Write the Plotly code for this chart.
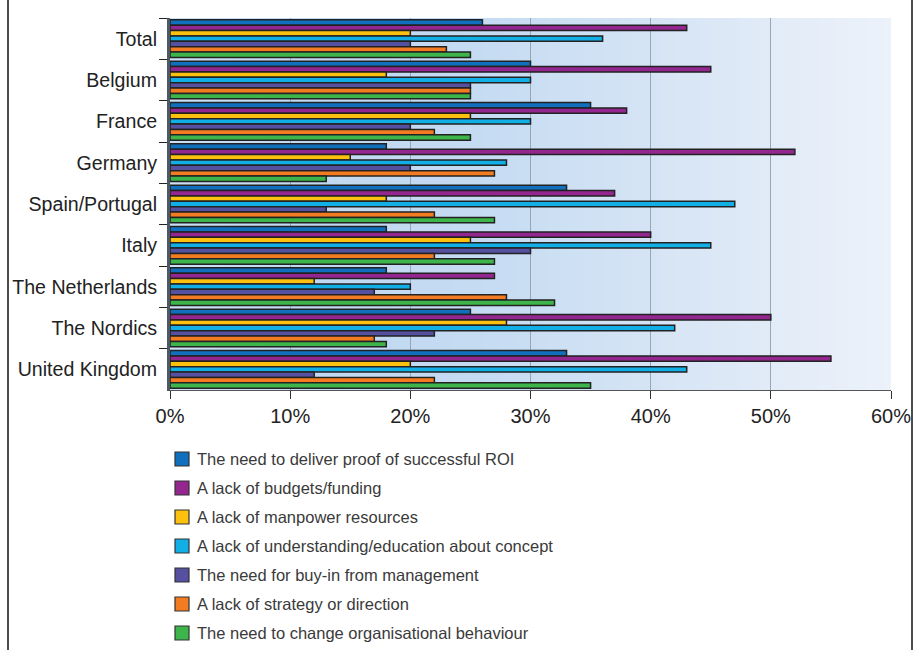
import plotly.graph_objects as go

# Countries (top to bottom) and the barriers surveyed
countries = ["Total", "Belgium", "France", "Germany", "Spain/Portugal", "Italy",
             "The Netherlands", "The Nordics", "United Kingdom"]

series_names = [
    "The need to deliver proof of successful ROI",
    "A lack of budgets/funding",
    "A lack of manpower resources",
    "A lack of understanding/education about concept",
    "The need for buy-in from management",
    "A lack of strategy or direction",
    "The need to change organisational behaviour",
]

roi           = [26, 30, 35, 18, 33, 18, 18, 25, 33]
budgets       = [43, 45, 38, 52, 37, 40, 27, 50, 55]
manpower      = [20, 18, 25, 15, 18, 25, 12, 28, 20]
understanding = [36, 30, 30, 28, 47, 45, 20, 42, 43]
buy_in        = [20, 25, 20, 20, 13, 30, 17, 22, 12]
strategy      = [23, 25, 22, 27, 22, 22, 28, 17, 22]
behaviour     = [25, 25, 25, 13, 27, 27, 32, 18, 35]

series_values = [roi, budgets, manpower, understanding, buy_in, strategy, behaviour]
series_colors = ["#1170bd", "#93278f", "#fcc10f", "#12aee6", "#55509f", "#f37c22", "#3db54a"]

x_ticks = [0, 10, 20, 30, 40, 50, 60]
x_tick_labels = ["0%", "10%", "20%", "30%", "40%", "50%", "60%"]

# Plot-area geometry in pixels, used to place the key below the chart
PLOT_L, PLOT_R, PLOT_T, PLOT_B = 170, 891, 18, 390
PW, PH = PLOT_R - PLOT_L, PLOT_B - PLOT_T


def px_x(px):
    return (px - PLOT_L) / PW


def px_y(py):
    return (PLOT_B - py) / PH


fig = go.Figure()

for name, vals, col in zip(series_names, series_values, series_colors):
    fig.add_trace(go.Bar(
        y=countries, x=vals, name=name, orientation="h",
        marker=dict(color=col, line=dict(color="#222", width=1.5)),
        showlegend=False,
    ))

# Horizontal blue gradient behind the bars
def lerp(c1, c2, t):
    return tuple(round(a + (b - a) * t) for a, b in zip(c1, c2))

stops = [(0, (205, 224, 244)), (12, (192, 216, 241)), (25, (196, 219, 242)),
         (40, (213, 228, 245)), (52, (228, 236, 248)), (60, (236, 242, 250))]
shapes = []
steps = 120
for k in range(steps):
    x0 = 60 * k / steps
    x1 = 60 * (k + 1) / steps
    xm = (x0 + x1) / 2
    for (a, ca), (b, cb) in zip(stops[:-1], stops[1:]):
        if a <= xm <= b:
            c = lerp(ca, cb, (xm - a) / (b - a))
            break
    shapes.append(dict(type="rect", xref="x", yref="paper", x0=x0, x1=x1 + 0.05,
                       y0=0, y1=1, fillcolor=f"rgb{c}", line=dict(width=0),
                       layer="below"))

# Outer frame lines at the left and right edges of the page
for fx in (8, 912):
    shapes.append(dict(type="line", xref="paper", yref="paper",
                       x0=px_x(fx), x1=px_x(fx), y0=px_y(655), y1=px_y(-5),
                       line=dict(color="#111", width=1.5)))

# Key: coloured squares with the series names beside them
annotations = []
for i, (name, col) in enumerate(zip(series_names, series_colors)):
    cy = 459 + 29 * i
    shapes.append(dict(type="rect", xref="paper", yref="paper",
                       x0=px_x(175), x1=px_x(189), y0=px_y(cy + 7), y1=px_y(cy - 7),
                       fillcolor=col, line=dict(color="#333", width=1.2)))
    annotations.append(dict(xref="paper", yref="paper", x=px_x(195), y=px_y(cy),
                            xanchor="left", yanchor="middle", showarrow=False,
                            text=name, font=dict(size=16.5, color="#3a3a3a")))

fig.update_layout(
    width=923, height=650,
    margin=dict(l=PLOT_L, r=923 - PLOT_R, t=PLOT_T, b=650 - PLOT_B, autoexpand=False),
    paper_bgcolor="white",
    plot_bgcolor="rgba(0,0,0,0)",
    barmode="group",
    bargap=0.09,
    bargroupgap=0,
    shapes=shapes,
    annotations=annotations,
    showlegend=False,
    font=dict(family="Liberation Sans, Arial, sans-serif", color="#222"),
    xaxis=dict(
        range=[0, 60], tickvals=x_ticks, ticktext=x_tick_labels,
        showgrid=True, gridcolor="#9aa5b1", gridwidth=1.2,
        ticks="outside", ticklen=8, tickcolor="#333",
        showline=True, linecolor="#555", linewidth=1,
        tickfont=dict(size=20, color="#222"),
        zeroline=False, fixedrange=True,
    ),
    yaxis=dict(
        autorange="reversed",
        ticks="outside", ticklen=8, tickcolor="#222", tickson="boundaries",
        showline=True, linecolor="#4d5a66", linewidth=3,
        tickfont=dict(size=19.6, color="#222"),
        ticklabelstandoff=6,
        showgrid=False, fixedrange=True,
    ),
)

fig.write_html("out.html")
